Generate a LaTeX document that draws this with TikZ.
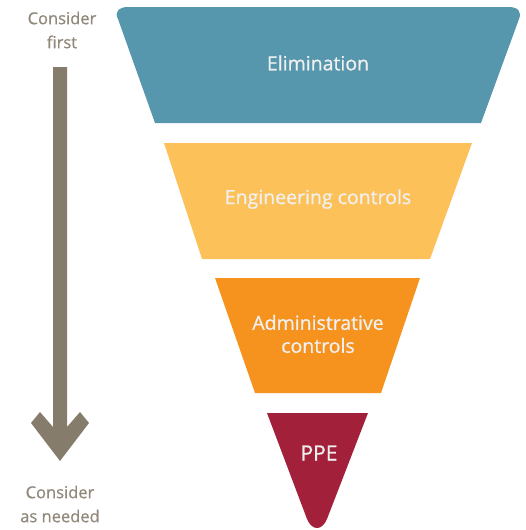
\documentclass[tikz,border=0pt]{standalone}
\usepackage{fontspec}
\setmainfont{Open Sans}
\newfontfamily\labelfont[FakeBold=0.8]{Open Sans}
\definecolor{tealc}{HTML}{5797AD}
\definecolor{yellowc}{HTML}{FDC159}
\definecolor{orangec}{HTML}{F6931E}
\definecolor{redc}{HTML}{A3203A}
\definecolor{greyc}{HTML}{857C6C}
\tikzset{
  inlabel/.style={text=white!94!black,font=\labelfont\fontsize{19.5}{23}\selectfont,align=center,inner sep=0pt},
  sidelabel/.style={text=greyc!90!white,font=\labelfont\fontsize{16.5}{24}\selectfont,align=center,inner sep=0pt}
}
\begin{document}
\begin{tikzpicture}[x=1pt,y=-1pt]
\useasboundingbox (0,0) rectangle (525,530);
\fill[tealc] (128,7) -- (509,7) .. controls (518,7) and (522,12) .. (519,19) -- (481,123) -- (155,123) -- (118,19) .. controls (114,12) and (119,7) .. (128,7) -- cycle;
\fill[yellowc] (164,143) -- (472,143) -- (430,259) -- (202,259) -- cycle;
\fill[orangec] (215,278) -- (420,278) -- (381,393) -- (255,393) -- cycle;
\fill[redc] (267,413) -- (368,413) -- (327,519) .. controls (322,531) and (312,531) .. (307,519) -- cycle;
\fill[greyc] (53,67) -- (67,67) -- (67,427) -- (80,412) -- (89,423) -- (60,461) -- (31,423) -- (40,412) -- (53,427) -- cycle;
\node[inlabel] (elim) at (318,63) {Elimination};
\node[inlabel] (eng) at (318,199) {Engineering controls};
\node[inlabel] (adm) at (318,334) {Administrative\\controls};
\node[inlabel,font=\labelfont\fontsize{21}{23}\selectfont] (ppe) at (319,453) {PPE};
\node[sidelabel] (first) at (62,30) {Consider\\first};
\node[sidelabel] (needed) at (60,504) {Consider\\as needed};
\end{tikzpicture}
\end{document}
